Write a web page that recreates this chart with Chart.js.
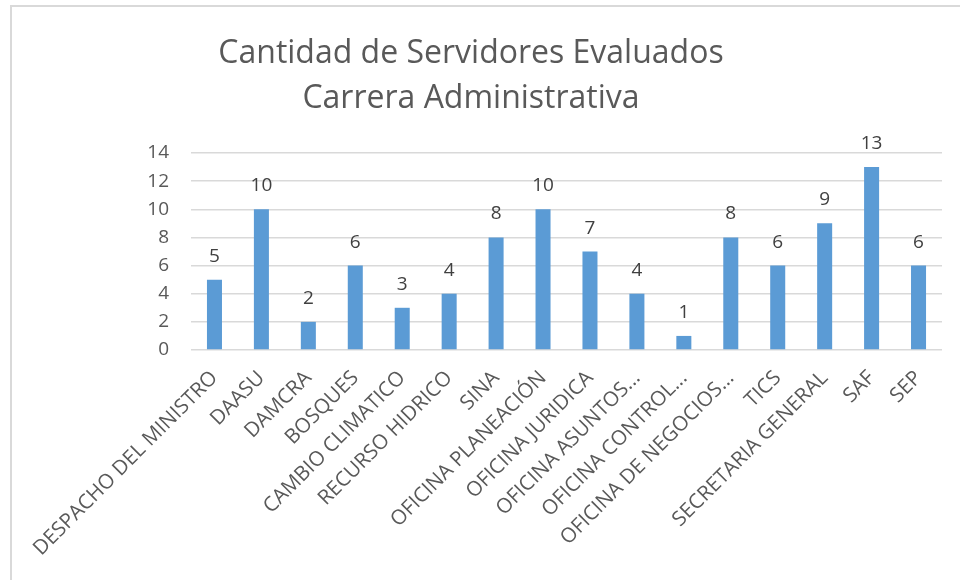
<!DOCTYPE html>
<html>
<head>
<meta charset="utf-8">
<script src="https://cdn.jsdelivr.net/npm/chart.js@4/dist/chart.umd.min.js"></script>
<style>
  html, body { margin: 0; padding: 0; background: #fff; }
  #wrap { position: relative; width: 960px; height: 580px; }
  #frame { position: absolute; left: 10px; top: 5px; right: 0; bottom: 0;
           border-left: 2px solid #d9d9d9; border-top: 2px solid #d9d9d9; pointer-events: none; }
  canvas { display: block; }
</style>
</head>
<body>
<div id="wrap">
  <canvas id="c" width="960" height="580"></canvas>
  <div id="frame"></div>
</div>
<script>
const titleLines = ['Cantidad de Servidores Evaluados', 'Carrera Administrativa'];
const categories = [
  'DESPACHO DEL MINISTRO', 'DAASU', 'DAMCRA', 'BOSQUES', 'CAMBIO CLIMATICO',
  'RECURSO HIDRICO', 'SINA', 'OFICINA PLANEACIÓN', 'OFICINA JURIDICA',
  'OFICINA ASUNTOS...', 'OFICINA CONTROL...', 'OFICINA DE NEGOCIOS...',
  'TICS', 'SECRETARIA GENERAL', 'SAF', 'SEP'
];
const servidores = [5, 10, 2, 6, 3, 4, 8, 10, 7, 4, 1, 8, 6, 9, 13, 6];
const yTicks = [0, 2, 4, 6, 8, 10, 12, 14];

const FONT = '"Open Sans", Lato, sans-serif';

const dataLabels = {
  id: 'dataLabels',
  afterDatasetsDraw(chart) {
    const ctx = chart.ctx;
    const meta = chart.getDatasetMeta(0);
    ctx.save();
    ctx.font = '19px ' + FONT;
    ctx.fillStyle = '#404040';
    ctx.textAlign = 'center';
    ctx.textBaseline = 'alphabetic';
    meta.data.forEach((bar, i) => {
      ctx.fillText(String(chart.data.datasets[0].data[i]), bar.x, bar.y - 18);
    });
    ctx.restore();
  }
};

new Chart(document.getElementById('c'), {
  type: 'bar',
  data: {
    labels: categories,
    datasets: [{
      data: servidores,
      backgroundColor: '#5B9BD5',
      borderWidth: 0,
      categoryPercentage: 1,
      barPercentage: 0.32
    }]
  },
  options: {
    responsive: false,
    animation: false,
    layout: { padding: { left: 0, right: 18, top: 0, bottom: 0 } },
    plugins: {
      legend: { display: false },
      tooltip: { enabled: false },
      title: {
        display: true,
        text: titleLines,
        color: '#595959',
        font: { family: FONT, size: 32, weight: 'normal', lineHeight: '45px' },
        padding: { top: 31, bottom: 32 }
      }
    },
    scales: {
      x: {
        grid: { display: false, drawTicks: false },
        border: { display: false },
        ticks: {
          autoSkip: false,
          maxRotation: 45,
          minRotation: 45,
          padding: 16,
          color: '#595959',
          font: { family: FONT, size: 20.5 }
        },
        afterFit(scale) {
          scale.height = 230;
          scale.paddingLeft = 0;
          scale.paddingRight = 0;
        }
      },
      y: {
        min: 0,
        max: 14,
        afterBuildTicks(scale) {
          scale.ticks = yTicks.map(v => ({ value: v }));
        },
        grid: { color: '#d9d9d9', lineWidth: 1.5, drawTicks: false },
        border: { display: false },
        ticks: {
          padding: 22,
          color: '#595959',
          font: { family: FONT, size: 19 }
        },
        afterFit(scale) {
          scale.width = 191;
        }
      }
    }
  },
  plugins: [dataLabels]
});
</script>
</body>
</html>
